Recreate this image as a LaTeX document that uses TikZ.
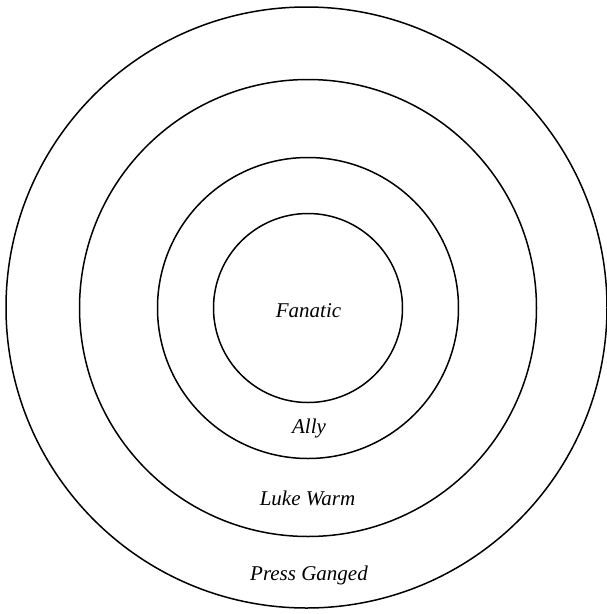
\documentclass[tikz,border=0pt]{standalone}
\usepackage{fontspec}
\setmainfont{Liberation Serif}
\begin{document}
\begin{tikzpicture}[x=1pt,y=-1pt,
  ring/.style={draw=black,line width=1.5pt},
  lbl/.style={anchor=base,font=\fontsize{21}{24}\selectfont\itshape,inner sep=0pt}]
\useasboundingbox (0,0) rectangle (607,614);
\coordinate (c) at (308,308);
\draw[ring] (306.5,307.5) circle[radius=300.5];
\draw[ring] (c) circle[radius=228.5];
\draw[ring] (c) circle[radius=150.5];
\draw[ring] (c) circle[radius=94.5];
\node[lbl] (fan) at (308.5,317) {Fanatic};
\node[lbl] (ally) at (309,433) {Ally};
\node[lbl] (luke) at (307.5,505) {Luke Warm};
\node[lbl] (press) at (309,580) {Press Ganged};
\end{tikzpicture}
\end{document}
